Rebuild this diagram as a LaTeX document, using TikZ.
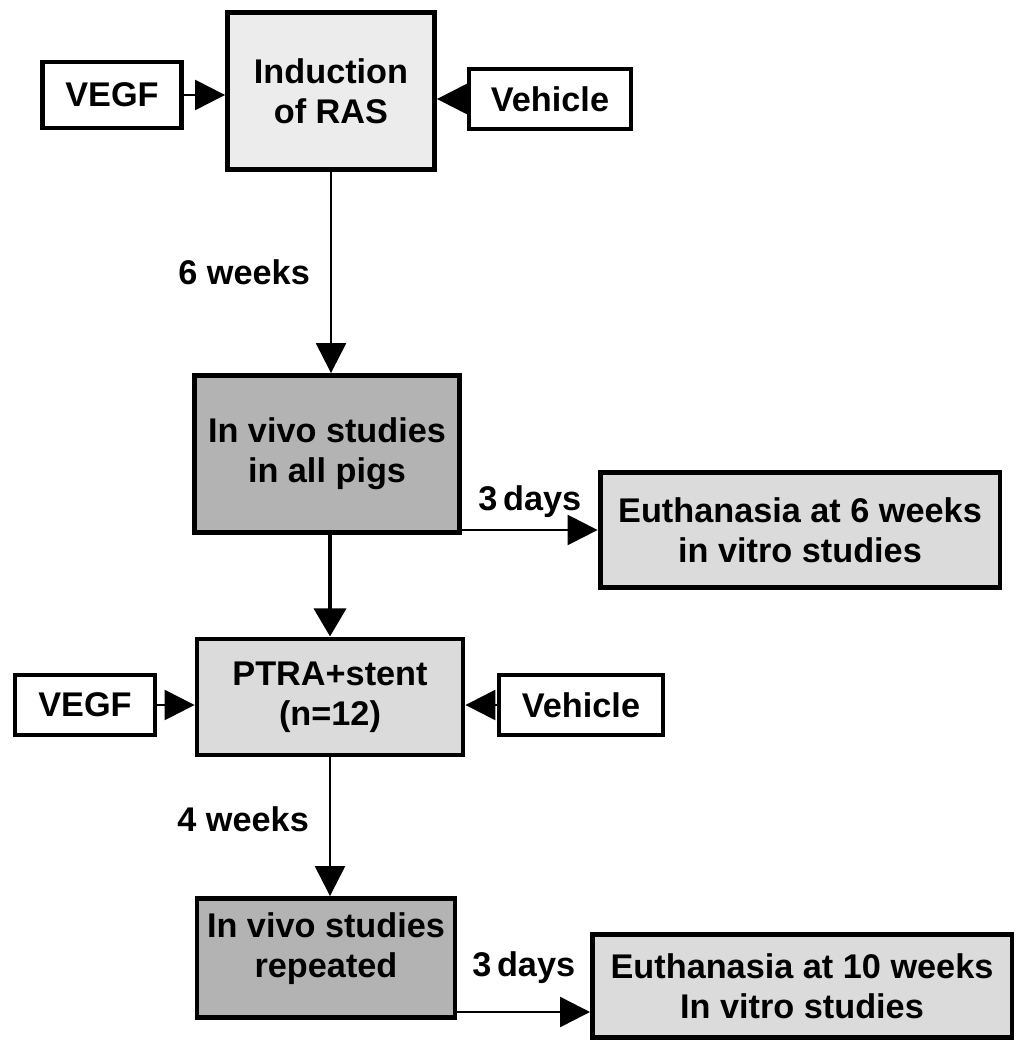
\documentclass[tikz,border=0pt]{standalone}
\usepackage{fontspec}
\setmainfont{Liberation Sans}
\usetikzlibrary{arrows.meta}
\definecolor{palegray}{HTML}{ECECEC}
\definecolor{midgray}{HTML}{DBDBDB}
\definecolor{darkgray}{HTML}{B3B3B3}
\begin{document}
\begin{tikzpicture}[x=0.02cm, y=-0.02cm,
 every node/.style={font=\fontsize{19.5}{23}\selectfont\bfseries, align=center},
 box/.style={rectangle, draw, line width=2.8pt, inner sep=2pt},
 tip/.style={-{Triangle[length=17pt, width=17pt]}, line width=1.4pt},
 bigtip/.style={-{Triangle[length=16pt, width=18pt]}, line width=2.8pt}]
 \useasboundingbox (0,0) rectangle (1031,1050);
 \node[box, fill=palegray, minimum width=4.14cm, minimum height=3.14cm] (ind) at (331,91) {Induction\\of RAS};
 \node[box, fill=white, minimum width=2.78cm, minimum height=1.32cm] (vegfa) at (112,95) {VEGF};
 \node[box, fill=white, minimum width=3.24cm, minimum height=1.2cm] (veha) at (550,99) {Vehicle};
 \node[box, fill=darkgray, minimum width=5.3cm, minimum height=3.14cm] (vivo) at (327,454) {In vivo studies\\in all pigs};
 \node[box, fill=midgray, minimum width=8.0cm, minimum height=2.3cm] (eutha) at (800,530) {Euthanasia at 6 weeks\\in vitro studies};
 \node[box, fill=midgray, minimum width=5.32cm, minimum height=2.32cm] (ptra) at (330,697) {PTRA+stent\\(n=12)};
 \node[box, fill=white, minimum width=2.8cm, minimum height=1.2cm] (vegfb) at (85,705) {VEGF};
 \node[box, fill=white, minimum width=3.28cm, minimum height=1.2cm] (vehb) at (581,705) {Vehicle};
 \node[box, fill=darkgray, minimum width=5.16cm, minimum height=2.38cm] (rep) at (326,958) {In vivo studies\\repeated\\[-8pt]};
 \node[box, fill=midgray, minimum width=8.4cm, minimum height=2.06cm] (euthb) at (802,986) {Euthanasia at 10 weeks\\In vitro studies};
 \coordinate (inb) at (590,1012);
 \draw[tip] (vegfa) -- (ind.west |- vegfa);
 \draw[tip] (veha.west) -- (ind.east |- veha.west);
 \draw[tip] (ind.south) -- (ind.south |- vivo.north) node[midway, left, xshift=-8pt] (lsix) {6 weeks};
 \draw[tip] (vivo.east |- eutha.west) -- (eutha.west) node[midway, above, yshift=3pt] (ldaya) {3\,days};
 \draw[bigtip] (ptra.north |- vivo.south) -- (ptra.north);
 \draw[tip] (vegfb) -- (ptra.west |- vegfb);
 \draw[tip] (vehb) -- (ptra.east |- vehb);
 \draw[tip] (ptra.south) -- (ptra.south |- rep.north) node[midway, left, xshift=-8pt, yshift=4pt] (lfour) {4 weeks};
 \draw[tip] (rep.east |- inb) -- (inb) node[midway, above, yshift=12pt] (ldayb) {3\,days};
\end{tikzpicture}
\end{document}
